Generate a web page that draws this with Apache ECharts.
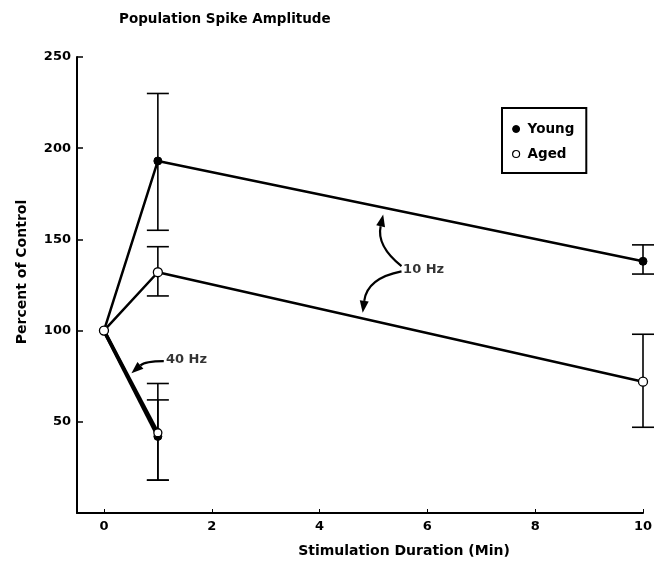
<!DOCTYPE html>
<html><head><meta charset="utf-8">
<script src="https://cdn.jsdelivr.net/npm/echarts@6/dist/echarts.min.js"></script>
<style>html,body{margin:0;padding:0;background:#fff}#c{width:665px;height:563px}</style>
</head><body><div id="c"></div>
<script>
const titleText = 'Population Spike Amplitude';
const xName = 'Stimulation Duration (Min)';
const yName = 'Percent of Control';
const xTicks = [0, 2, 4, 6, 8, 10];
const yTicks = [50, 100, 150, 200, 250];
// 10 Hz series
const young10 = [[0, 100], [1, 193], [10, 138]];
const aged10 = [[0, 100], [1, 132], [10, 72]];
// 40 Hz series
const young40 = [[0, 100], [1, 42]];
const aged40 = [[0, 100], [1, 44]];
// error bars [x, low, high]
const youngErr = [[1, 155, 230], [10, 131, 147], [1, 18, 62]];
const agedErr = [[1, 119, 146], [10, 47, 98], [1, 18, 71]];
// annotation labels [x, y, text]
const annotLabels = [[5.55, 133.5, '10 Hz'], [1.15, 84.2, '40 Hz']];
// annotation arrows [x0, y0, x1, y1] (tail -> head)
const annotArrows = [
  [5.52, 135.3, 5.18, 163.6],
  [5.52, 132.5, 4.80, 109.8],
  [1.11, 83.3, 0.51, 76.6]
];

const FONT = 'DejaVu Sans';
const arrowCurve = [-0.31, 0.36, 0.19];
const chart = echarts.init(document.getElementById('c'));

function errItem(params, api) {
  const x = api.value(0);
  const lo = api.coord([x, api.value(1)]);
  const hi = api.coord([x, api.value(2)]);
  const hw = 11;
  const st = {stroke: '#000', lineWidth: 1.6};
  return {type: 'group', children: [
    {type: 'line', shape: {x1: lo[0], y1: lo[1], x2: hi[0], y2: hi[1]}, style: st},
    {type: 'line', shape: {x1: lo[0]-hw, y1: lo[1], x2: lo[0]+hw, y2: lo[1]}, style: st},
    {type: 'line', shape: {x1: hi[0]-hw, y1: hi[1], x2: hi[0]+hw, y2: hi[1]}, style: st}
  ]};
}

function arrowItem(params, api) {
  const p0 = api.coord([api.value(0), api.value(1)]);
  const p2 = api.coord([api.value(2), api.value(3)]);
  const c = arrowCurve[params.dataIndex];
  const dx = p2[0]-p0[0], dy = p2[1]-p0[1];
  const cp = [(p0[0]+p2[0])/2 - c*dy, (p0[1]+p2[1])/2 + c*dx];
  let tx = p2[0]-cp[0], ty = p2[1]-cp[1];
  const tl = Math.hypot(tx, ty); tx /= tl; ty /= tl;
  const L = 12, W = 4.5;
  const base = [p2[0]-tx*L, p2[1]-ty*L];
  const nx = -ty, ny = tx;
  return {type: 'group', children: [
    {type: 'bezierCurve', shape: {x1: p0[0], y1: p0[1], x2: base[0], y2: base[1], cpx1: cp[0], cpy1: cp[1]},
      style: {stroke: '#000', lineWidth: 2.2, fill: null}},
    {type: 'polygon', shape: {points: [p2, [base[0]+nx*W, base[1]+ny*W], [base[0]-nx*W, base[1]-ny*W]]},
      style: {fill: '#000'}}
  ]};
}

const filled = {color: '#000', borderColor: '#000', borderWidth: 1};
const open = {color: '#fff', borderColor: '#000', borderWidth: 1.3};
const txt = {fontFamily: FONT, fontWeight: 'bold', color: '#000'};

chart.setOption({
  animation: false,
  backgroundColor: '#fff',
  title: {text: titleText, left: 114, top: 7,
    textStyle: Object.assign({fontSize: 13.5}, txt)},
  legend: {
    left: 502, top: 108, orient: 'vertical', itemGap: 11,
    padding: [14, 12, 12, 10], borderColor: '#000', borderWidth: 2,
    itemWidth: 13, itemHeight: 7,
    textStyle: Object.assign({fontSize: 13.5}, txt),
    data: [
      {name: 'Young', icon: 'circle', itemStyle: filled},
      {name: 'Aged', icon: 'circle', itemStyle: {color: '#fff', borderColor: '#000', borderWidth: 1.2}}
    ]
  },
  grid: {left: 77, right: 22, top: 57, bottom: 49},
  xAxis: {
    type: 'value', min: -0.5, max: 10,
    name: xName, nameLocation: 'middle', nameGap: 31,
    nameTextStyle: Object.assign({fontSize: 14, padding: [0, 0, 0, 88]}, txt),
    axisLine: {lineStyle: {color: '#000', width: 2}},
    axisTick: {inside: true, length: 4, customValues: xTicks, lineStyle: {color: '#000', width: 1}},
    axisLabel: Object.assign({customValues: xTicks, fontSize: 13, margin: 7}, txt),
    splitLine: {show: false}
  },
  yAxis: {
    type: 'value', min: 0, max: 250,
    name: yName, nameLocation: 'middle', nameGap: 48,
    nameTextStyle: Object.assign({fontSize: 14, padding: [0, 0, 0, 26]}, txt),
    axisLine: {onZero: false, lineStyle: {color: '#000', width: 2}},
    axisTick: {inside: true, length: 6, customValues: yTicks, lineStyle: {color: '#000', width: 1.5}},
    axisLabel: Object.assign({customValues: yTicks, fontSize: 13, margin: 6}, txt),
    splitLine: {show: false}
  },
  series: [
    {type: 'custom', name: 'errY', renderItem: errItem, data: youngErr, z: 1, silent: true},
    {type: 'custom', name: 'errA', renderItem: errItem, data: agedErr, z: 1, silent: true},
    {type: 'line', name: 'Young', data: young40, symbol: 'circle', symbolSize: 8,
      lineStyle: {color: '#000', width: 3.5}, itemStyle: filled, z: 3},
    {type: 'line', name: 'Aged', data: aged40, symbol: 'circle', symbolSize: 8,
      lineStyle: {color: '#000', width: 3.5}, itemStyle: open, z: 4},
    {type: 'line', name: 'Young', data: young10, symbol: 'circle', symbolSize: 8,
      lineStyle: {color: '#000', width: 2.5}, itemStyle: filled, z: 3},
    {type: 'line', name: 'Aged', data: aged10, symbol: 'circle', symbolSize: 9,
      lineStyle: {color: '#000', width: 2.5}, itemStyle: open, z: 4},
    {type: 'custom', name: 'arrows', renderItem: arrowItem, data: annotArrows, z: 5, silent: true},
    {type: 'scatter', name: 'lab', data: annotLabels, symbolSize: 0, z: 5,
      label: Object.assign({show: true, position: 'right', distance: 0, formatter: p => p.data[2],
        fontSize: 13}, txt)}
  ]
});
</script></body></html>
